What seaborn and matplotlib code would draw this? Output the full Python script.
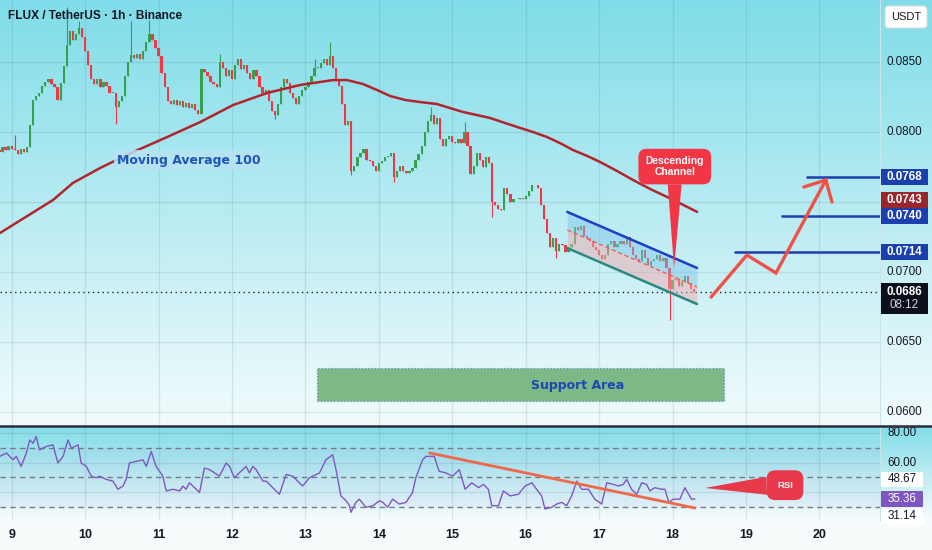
import numpy as np
import pandas as pd
import seaborn as sns
import matplotlib.pyplot as plt
import matplotlib.transforms as mtransforms
from matplotlib.patches import Rectangle, FancyBboxPatch
from matplotlib.lines import Line2D

sns.set_theme(style="white")
plt.rcParams['font.family'] = ['Liberation Sans', 'DejaVu Sans']

# ---------------- data ----------------
# hourly candles, hour 0 = day 9 00:00
first_hour = -4
first_open = 0.0787
closes = [
    0.0786, 0.0789, 0.0787, 0.0790, 0.0788, 0.0787, 0.0784, 0.0788, 0.0786, 0.0789,
    0.0805, 0.0823, 0.0826, 0.0828, 0.0833, 0.0836, 0.0838, 0.0834, 0.0832, 0.0823, 0.0835, 0.0847,
    0.0862, 0.0872, 0.0866, 0.0870, 0.0874, 0.0868, 0.0858, 0.0848, 0.0838, 0.0834, 0.0838, 0.0832,
    0.0836, 0.0833, 0.0828, 0.0828, 0.0818, 0.0822, 0.0826, 0.0840, 0.0850, 0.0855, 0.0853, 0.0856,
    0.0852, 0.0858, 0.0864, 0.0870, 0.0866, 0.0860, 0.0854, 0.0842, 0.0832, 0.0822, 0.0820, 0.0823,
    0.0819, 0.0822, 0.0818, 0.0821, 0.0817, 0.0820, 0.0816, 0.0813, 0.0845, 0.0843, 0.0840, 0.0836,
    0.0834, 0.0832, 0.0850, 0.0846, 0.0840, 0.0844, 0.0838, 0.0848, 0.0852, 0.0845, 0.0848, 0.0842,
    0.0838, 0.0844, 0.0840, 0.0832, 0.0828, 0.0830, 0.0822, 0.0815, 0.0812, 0.0820, 0.0832, 0.0838,
    0.0835, 0.0828, 0.0824, 0.0820, 0.0826, 0.0830, 0.0832, 0.0836, 0.0840, 0.0846, 0.0846, 0.0849,
    0.0852, 0.0848, 0.0854, 0.0846, 0.0838, 0.0833, 0.0820, 0.0805, 0.0808, 0.0772, 0.0776, 0.0782,
    0.0785, 0.0788, 0.0780, 0.0779, 0.0776, 0.0772, 0.0778, 0.0779, 0.0782, 0.0783, 0.0785, 0.0768,
    0.0772, 0.0776, 0.0772, 0.0771, 0.0772, 0.0774, 0.0780, 0.0784, 0.0790, 0.0800, 0.0808, 0.0812,
    0.0806, 0.0810, 0.0795, 0.0790, 0.0795, 0.0797, 0.0793, 0.0792, 0.0795, 0.0792, 0.0800, 0.0790,
    0.0770, 0.0776, 0.0785, 0.0780, 0.0775, 0.0782, 0.0778, 0.0750, 0.0748, 0.0745, 0.0744, 0.0760,
    0.0756, 0.0750, 0.0752, 0.0752, 0.0753, 0.0752, 0.0754, 0.0758, 0.0762, 0.0762, 0.0760, 0.0748,
    0.0738, 0.0728, 0.0718, 0.0724, 0.0715, 0.0720, 0.0719, 0.0714, 0.0718, 0.0720, 0.0732, 0.0730,
    0.0733, 0.0726, 0.0724, 0.0722, 0.0718, 0.0716, 0.0712, 0.0709, 0.0712, 0.0720, 0.0722, 0.0718,
    0.0720, 0.0722, 0.0720, 0.0725, 0.0718, 0.0712, 0.0709, 0.0708, 0.0716, 0.0710, 0.0705, 0.0708,
    0.0709, 0.0712, 0.0708, 0.0710, 0.0703, 0.0688, 0.0694, 0.0695, 0.0690, 0.0693, 0.0697, 0.0692,
    0.0688, 0.0686,
]
hi_hours = [1, 18, 22, 39, 45, 68, 99, 104, 137, 148]
hi_vals = [0.0798, 0.0889, 0.0879, 0.0879, 0.0880, 0.0856, 0.0852, 0.0864, 0.0818, 0.0807]
lo_hours = [34, 86, 111, 125, 157, 178, 215]
lo_vals = [0.0806, 0.0809, 0.0769, 0.0764, 0.0739, 0.0710, 0.0666]

ma_hours = [-3.8, 13.5, 20.0, 28.9, 39.7, 50.8, 61.6, 72.4, 83.5, 94.3, 105.0, 109.6, 114.8,
            119.4, 123.7, 128.6, 133.5, 139.0, 143.3, 147.5, 152.1, 156.4, 161.3, 166.2, 170.4,
            175.0, 179.2, 183.5, 188.1, 192.3, 197.9, 203.1, 208.7, 214.2, 219.5, 224.0]
ma_vals = [0.07279, 0.07514, 0.07636, 0.07743, 0.07857, 0.07964, 0.08071, 0.08193, 0.08279,
           0.08336, 0.08371, 0.08371, 0.08343, 0.08300, 0.08257, 0.08229, 0.08214, 0.08200,
           0.08171, 0.08143, 0.08121, 0.08100, 0.08064, 0.08029, 0.08000, 0.07964, 0.07921,
           0.07871, 0.07829, 0.07786, 0.07721, 0.07657, 0.07593, 0.07536, 0.07479, 0.07430]

rsi_hours = [-3.9, -1.7, 0.4, 1.5, 3.1, 4.8, 5.9, 7.0, 8.0, 9.1, 11.3, 13.5, 15.1, 16.8, 18.4,
             19.5, 21.7, 22.7, 24.4, 26.0, 27.6, 28.7, 30.9, 33.1, 34.7, 36.4, 37.4, 38.5, 40.7,
             42.9, 44.0, 45.6, 47.2, 49.4, 50.5, 52.7, 54.9, 56.0, 57.0, 58.1, 60.3, 61.4, 63.0,
             64.7, 67.9, 70.1, 71.2, 72.8, 74.4, 76.6, 77.7, 78.8, 79.9, 82.1, 83.2, 87.5, 89.7,
             91.9, 94.0, 95.1, 97.3, 100.6, 102.7, 104.9, 106.0, 107.6, 109.3, 110.4, 110.9,
             112.5, 113.6, 115.8, 118.0, 120.2, 121.3, 122.9, 124.5, 126.7, 128.9, 131.0, 132.1,
             134.3, 135.4, 137.0, 138.1, 139.7, 141.9, 144.1, 146.3, 148.2, 150.4, 152.6, 154.2,
             155.8, 156.9, 159.1, 160.7, 162.9, 165.6, 167.8, 170.0, 171.6, 173.2, 174.3, 176.5,
             178.1, 179.8, 181.4, 183.0, 184.7, 186.3, 188.5, 190.6, 192.8, 194.5, 196.6, 198.3,
             199.9, 201.0, 202.6, 204.3, 205.9, 207.5, 208.6, 210.2, 212.4, 213.5, 214.8, 216.2,
             218.4, 220.0, 222.2, 223.3]
rsi_vals = [64.3, 66.6, 62.0, 64.3, 57.5, 66.6, 75.4, 73.2, 77.7, 68.7, 71.0, 72.1, 59.8, 64.3,
            75.4, 69.9, 72.1, 59.8, 57.5, 50.9, 49.8, 50.9, 48.7, 47.5, 42.0, 44.2, 48.7, 59.8,
            60.9, 62.0, 57.5, 67.6, 57.5, 50.9, 40.9, 42.0, 40.9, 44.2, 42.0, 46.4, 42.0, 39.8,
            56.4, 55.3, 50.9, 59.8, 57.5, 49.8, 53.1, 57.5, 53.1, 57.5, 55.3, 47.5, 47.5, 38.6,
            52.0, 50.9, 46.4, 44.2, 49.8, 53.1, 62.0, 65.4, 55.3, 37.5, 34.2, 30.9, 26.4, 33.1,
            35.3, 29.8, 30.8, 34.2, 33.1, 29.8, 35.3, 32.0, 33.1, 39.8, 49.8, 62.0, 64.3, 64.3,
            64.3, 54.2, 53.1, 50.9, 55.3, 42.0, 46.4, 43.1, 45.3, 42.0, 30.9, 30.9, 40.9, 37.5,
            38.6, 44.2, 46.4, 42.0, 37.5, 28.6, 29.8, 32.0, 33.1, 30.9, 37.5, 47.5, 42.0, 42.0,
            35.3, 32.0, 46.4, 45.3, 44.2, 45.3, 48.7, 42.0, 38.6, 46.4, 45.3, 40.9, 43.1, 42.0,
            42.0, 33.1, 35.3, 35.3, 43.1, 35.3, 35.4]

days = [9, 10, 11, 12, 13, 14, 15, 16, 17, 18, 19, 20]
price_grid = [0.0600, 0.0650, 0.0700, 0.0750, 0.0800, 0.0850]
price_labels = ["0.0600", "0.0650", "0.0700", "0.0800", "0.0850"]
last_price = 0.0686
ma_last = 0.0743
countdown = "08:12"

targets = [0.0714, 0.0740, 0.0768]
target_start = [236.0, 251.4, 259.6]

channel_hours = [181.6, 224.0]
channel_top = [0.07429, 0.07029]
channel_mid = [0.07300, 0.06893]
channel_bot = [0.07171, 0.06771]

support_hours = [99.9, 232.8]
support_prices = [0.06079, 0.06314]

path_hours = [228.6, 240.3, 249.8, 266.1]
path_prices = [0.06821, 0.07121, 0.06993, 0.07657]
head_hours = [258.9, 266.1, 268.1]
head_prices = [0.07607, 0.07657, 0.07500]

rsi_trend_hours = [136.6, 223.3]
rsi_trend_vals = [66.6, 29.3]
rsi_bands = [70, 50, 30]
rsi_grid = [40, 60, 80]
rsi_last, rsi_ma, rsi_low = 35.36, 48.67, 31.14

# ---------------- candles table ----------------
df = pd.DataFrame({"hour": np.arange(first_hour, first_hour + len(closes)),
                   "open": [first_open] + closes[:-1],
                   "close": closes})
df["high"] = df[["open", "close"]].max(axis=1)
df["low"] = df[["open", "close"]].min(axis=1)
for h, v in zip(hi_hours, hi_vals):
    df.loc[df.hour == h, "high"] = max(v, df.loc[df.hour == h, "high"].iloc[0])
for h, v in zip(lo_hours, lo_vals):
    df.loc[df.hour == h, "low"] = min(v, df.loc[df.hour == h, "low"].iloc[0])
df["up"] = df.close >= df.open
green, red = "#35a04f", "#f23645"
df["color"] = np.where(df.up, green, red)

# ---------------- figure ----------------
W, H = 932, 550
fig = plt.figure(figsize=(W / 100, H / 100), dpi=100, facecolor="#f8fbfc")
main_rect = [0, 1 - 426 / H, 880 / W, 426 / H]
rsi_rect = [0, 1 - 521 / H, 880 / W, 94 / H]


def gradient_bg(rect, top, bottom):
    bg = fig.add_axes([0, rect[1], 1, rect[3]], zorder=0)
    t = np.linspace(0, 1, 256)[:, None]
    c = np.array(top)[None, :] * (1 - t) + np.array(bottom)[None, :] * t
    bg.imshow(c[:, None, :], aspect="auto", extent=[0, 1, 0, 1])
    bg.set_axis_off()


gradient_bg(main_rect, (0.50, 0.865, 0.91), (0.95, 0.985, 0.99))
gradient_bg(rsi_rect, (0.51, 0.865, 0.91), (0.97, 0.99, 0.995))

ax = fig.add_axes(main_rect, zorder=2)
ax_r = fig.add_axes(rsi_rect, zorder=2, sharex=ax)
for a in (ax, ax_r):
    a.patch.set_alpha(0)
    for s in a.spines.values():
        s.set_visible(False)
    a.tick_params(length=0)

xmin, xmax = -3.82, 283.8
ax.set_xlim(xmin, xmax)
ax.set_ylim(0.0590, 0.08943)
ax_r.set_ylim(20.5, 84.2)

day_hours = [(d - 9) * 24 for d in days]
grid_kw = dict(color="#3d6470", alpha=0.13, lw=1, zorder=1)
for h in day_hours:
    ax.axvline(h, **grid_kw)
    ax_r.axvline(h, **grid_kw)
for p in price_grid:
    ax.axhline(p, **grid_kw)
for v in rsi_grid:
    ax_r.axhline(v, **grid_kw)
ax.set_yticks([])
ax_r.set_yticks([])
ax_r.set_xticks(day_hours)
ax_r.set_xticklabels([str(d) for d in days], fontsize=9, fontweight="bold", color="#131722")
ax_r.tick_params(axis="x", pad=6)
plt.setp(ax.get_xticklabels(), visible=False)

# candles
ax.vlines(df.hour, df.low, df.high, colors=df.color, lw=0.8, zorder=3)
body = (df.close - df.open).abs().clip(lower=0.00004)
ax.bar(df.hour, body, bottom=df[["open", "close"]].min(axis=1), width=0.74,
       color=df.color, linewidth=0, zorder=3)

# moving average 100
sns.lineplot(x=ma_hours, y=ma_vals, ax=ax, color="#b0252f", lw=1.8, sort=False,
             estimator=None, zorder=4)
ax.text(57.8, 0.0780, "Moving Average 100", ha="center", va="center", fontsize=9,
        fontweight="bold", family="DejaVu Sans", color="#1f56b8", zorder=6,
        bbox=dict(boxstyle="square,pad=0.25", fc="#b8e3f0", ec="none", alpha=0.85))

# descending channel
ax.fill_between(channel_hours, channel_mid, channel_top, color="#7ec4ec", alpha=0.45, lw=0, zorder=5)
ax.fill_between(channel_hours, channel_bot, channel_mid, color="#f0aab0", alpha=0.5, lw=0, zorder=5)
ax.plot(channel_hours, channel_top, color="#1c3fc7", lw=1.8, zorder=6)
ax.plot(channel_hours, channel_bot, color="#2b8a80", lw=1.8, zorder=6)
ax.plot(channel_hours, channel_mid, color="#f0604a", lw=1, ls=(0, (3, 2)), zorder=6)

# support area
ax.add_patch(Rectangle((support_hours[0], support_prices[0]), support_hours[1] - support_hours[0],
                       support_prices[1] - support_prices[0], fc="#7db886", ec="#6f8fc8",
                       lw=0.9, ls=":", zorder=2))
ax.text(185.1, 0.06186, "Support Area", ha="center", va="center", fontsize=9,
        fontweight="bold", family="DejaVu Sans", color="#1c47b3", zorder=6)

# current price dotted line, targets and projected path
ax.axhline(last_price, color="#1b1f2b", lw=1, ls=(0, (1, 2.5)), zorder=4)
ax.hlines(targets, target_start, xmax, color="#1c3fb0", lw=1.8, zorder=5)
ax.plot(path_hours, path_prices, color="#f0504a", lw=2.4, solid_joinstyle="miter", zorder=6)
ax.plot(head_hours, head_prices, color="#f0504a", lw=2.4, solid_joinstyle="miter", zorder=6)

# callouts
ax.annotate("Descending\nChannel", xy=(216.5, 0.07029), xytext=(0.5, 73),
            textcoords="offset points", ha="center", va="center", fontsize=7.4,
            fontweight="bold", color="white", zorder=8, linespacing=1.15,
            bbox=dict(boxstyle="round,pad=0.7,rounding_size=0.8", fc="#f23645", ec="none"),
            arrowprops=dict(arrowstyle="wedge,tail_width=1.35,shrink_factor=0.5",
                            fc="#f23645", ec="none", shrinkA=0, shrinkB=0))

# RSI panel
ax_r.axhspan(30, 70, color="#7e57c2", alpha=0.05, lw=0, zorder=1)
for v in rsi_bands:
    ax_r.axhline(v, color="#787b86", lw=1, ls=(0, (4, 3)), zorder=2)
sns.lineplot(x=rsi_hours, y=rsi_vals, ax=ax_r, color="#7e57c2", lw=1, sort=False,
             estimator=None, zorder=3)
ax_r.plot(rsi_trend_hours, rsi_trend_vals, color="#f0684a", lw=2, zorder=4)
ax_r.annotate("RSI", xy=(226.6, 42.9), xytext=(57.6, 2), textcoords="offset points",
              ha="center", va="center", fontsize=6.8, fontweight="bold", color="white", zorder=8,
              bbox=dict(boxstyle="round,pad=1.1,rounding_size=0.9", fc="#e8394a", ec="none"),
              arrowprops=dict(arrowstyle="wedge,tail_width=1.9,shrink_factor=0.5",
                              fc="#e8394a", ec="none", shrinkA=0, shrinkB=0))

# ---------------- axis-area labels (pixel placed, anchored to data) ----------------
ident = mtransforms.IdentityTransform()


def ypix(axis, value):
    return axis.transData.transform((0, value))[1]


def tag(axis, value, text, fc=None, tc="#131722", dy=0, bold=False, x0=881, w=47, h=16):
    y = ypix(axis, value) - dy
    if fc is not None:
        fig.add_artist(Rectangle((x0, y - h / 2), w, h, fc=fc, ec="none", transform=ident, zorder=10))
    fig.text(x0 + w / 2, y, text, transform=ident, ha="center", va="center", fontsize=8.4,
             color=tc, fontweight="bold" if bold else "normal", zorder=11)


for p, s in zip([0.0600, 0.0650, 0.0700, 0.0800, 0.0850], price_labels):
    tag(ax, p, s)
for p in targets:
    tag(ax, p, f"{p:.4f}", fc="#1c3fb0", tc="white", bold=True)
tag(ax, ma_last, f"{ma_last:.4f}", fc="#98262d", tc="white", bold=True, dy=-12)

# last price with countdown
y_last = ypix(ax, last_price)
fig.add_artist(Rectangle((881, y_last - 22), 47, 31, fc="#0b0f1c", ec="none", transform=ident, zorder=10))
fig.text(904.5, y_last, f"{last_price:.4f}", transform=ident, ha="center", va="center",
         fontsize=8.4, color="white", fontweight="bold", zorder=11)
fig.text(904.5, y_last - 13, countdown, transform=ident, ha="center", va="center",
         fontsize=8.4, color="#d0d3da", zorder=11)

for v in (80, 60):
    tag(ax_r, v, f"{v:.2f}", w=42)
tag(ax_r, rsi_ma, f"{rsi_ma:.2f}", fc="white", w=42, h=15)
tag(ax_r, rsi_last, f"{rsi_last:.2f}", fc="#7e57c2", tc="white", w=42, h=16)
tag(ax_r, rsi_low, f"{rsi_low:.2f}", fc="white", w=42, h=15, dy=11)

# currency box
fig.add_artist(FancyBboxPatch((885, 550 - 28), 42, 22, boxstyle="round,pad=0,rounding_size=4",
                              fc="white", ec="#d6dce3", lw=0.8, transform=ident, zorder=10))
fig.text(906, 550 - 17, "USDT", transform=ident, ha="center", va="center", fontsize=8,
         color="#131722", zorder=11)

# separators and title
fig.add_artist(Line2D([0, 1], [1 - 426 / H] * 2, transform=fig.transFigure, color="#2a2e39", lw=1.8, zorder=12))
fig.add_artist(Line2D([880 / W] * 2, [1 - 521 / H, 1], transform=fig.transFigure, color="#c9e4ea", lw=0.8, zorder=1.5))
fig.text(8 / W, 1 - 16 / H, "FLUX / TetherUS · 1h · Binance", ha="left", va="center",
         fontsize=8.6, fontweight="bold", color="#131722", zorder=12)

fig.savefig("out.png", dpi=100, facecolor=fig.get_facecolor())
